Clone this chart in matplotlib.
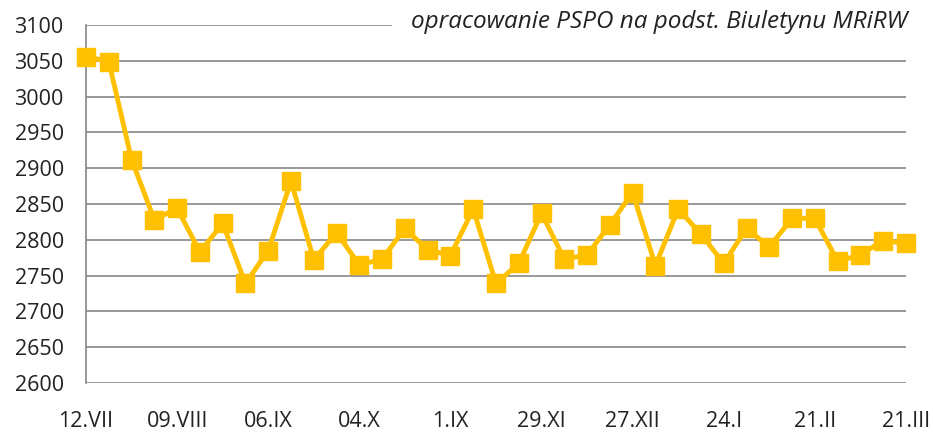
import matplotlib
matplotlib.use("Agg")
import matplotlib.pyplot as plt

# weekly values, 12.VII .. 21.III
values = [3056, 3049, 2912, 2828, 2844, 2783, 2823, 2739, 2785, 2882,
          2772, 2810, 2765, 2773, 2816, 2786, 2778, 2843, 2739, 2767,
          2837, 2773, 2779, 2821, 2866, 2764, 2843, 2808, 2767, 2816,
          2790, 2830, 2830, 2770, 2779, 2799, 2795]
tick_labels = ["12.VII", "09.VIII", "06.IX", "04.X", "1.IX",
               "29.XI", "27.XII", "24.I", "21.II", "21.III"]
yticks = list(range(2600, 3101, 50))
source = "opracowanie PSPO na podst. Biuletynu MRiRW"

plt.rcParams["font.family"] = ["Open Sans", "DejaVu Sans"]

fig = plt.figure(figsize=(9.33, 4.32), dpi=100)
ax = fig.add_axes([0.0922, 0.1134, 0.8788, 0.8287])

x = list(range(len(values)))
ax.plot(x, values, color="#FFC000", lw=3.5, marker="s", ms=13,
        mec="#FFC000", clip_on=False, zorder=3)

ax.set_xlim(0, len(values) - 1)
ax.set_ylim(2600, 3100)
ax.set_yticks(yticks)
ax.set_yticklabels([str(v) for v in yticks], fontsize=15.5)
ax.set_xticks(x[::4])
ax.set_xticklabels(tick_labels, fontsize=15.5)
ax.tick_params(length=0, colors="#222222")
ax.tick_params(axis="x", pad=20)
ax.tick_params(axis="y", pad=16)

ax.grid(axis="y", color="#868686", lw=1.2)
ax.set_axisbelow(True)
for s in ["top", "right", "bottom"]:
    ax.spines[s].set_visible(False)
ax.spines["left"].set_color("#868686")
ax.spines["left"].set_linewidth(1.2)

ax.text(1.002, 1.008, source, transform=ax.transAxes, ha="right", va="center",
        fontsize=17.5, style="italic", color="#222222",
        bbox=dict(facecolor="white", edgecolor="none", pad=14), zorder=5)

fig.savefig("out.png", dpi=100)
